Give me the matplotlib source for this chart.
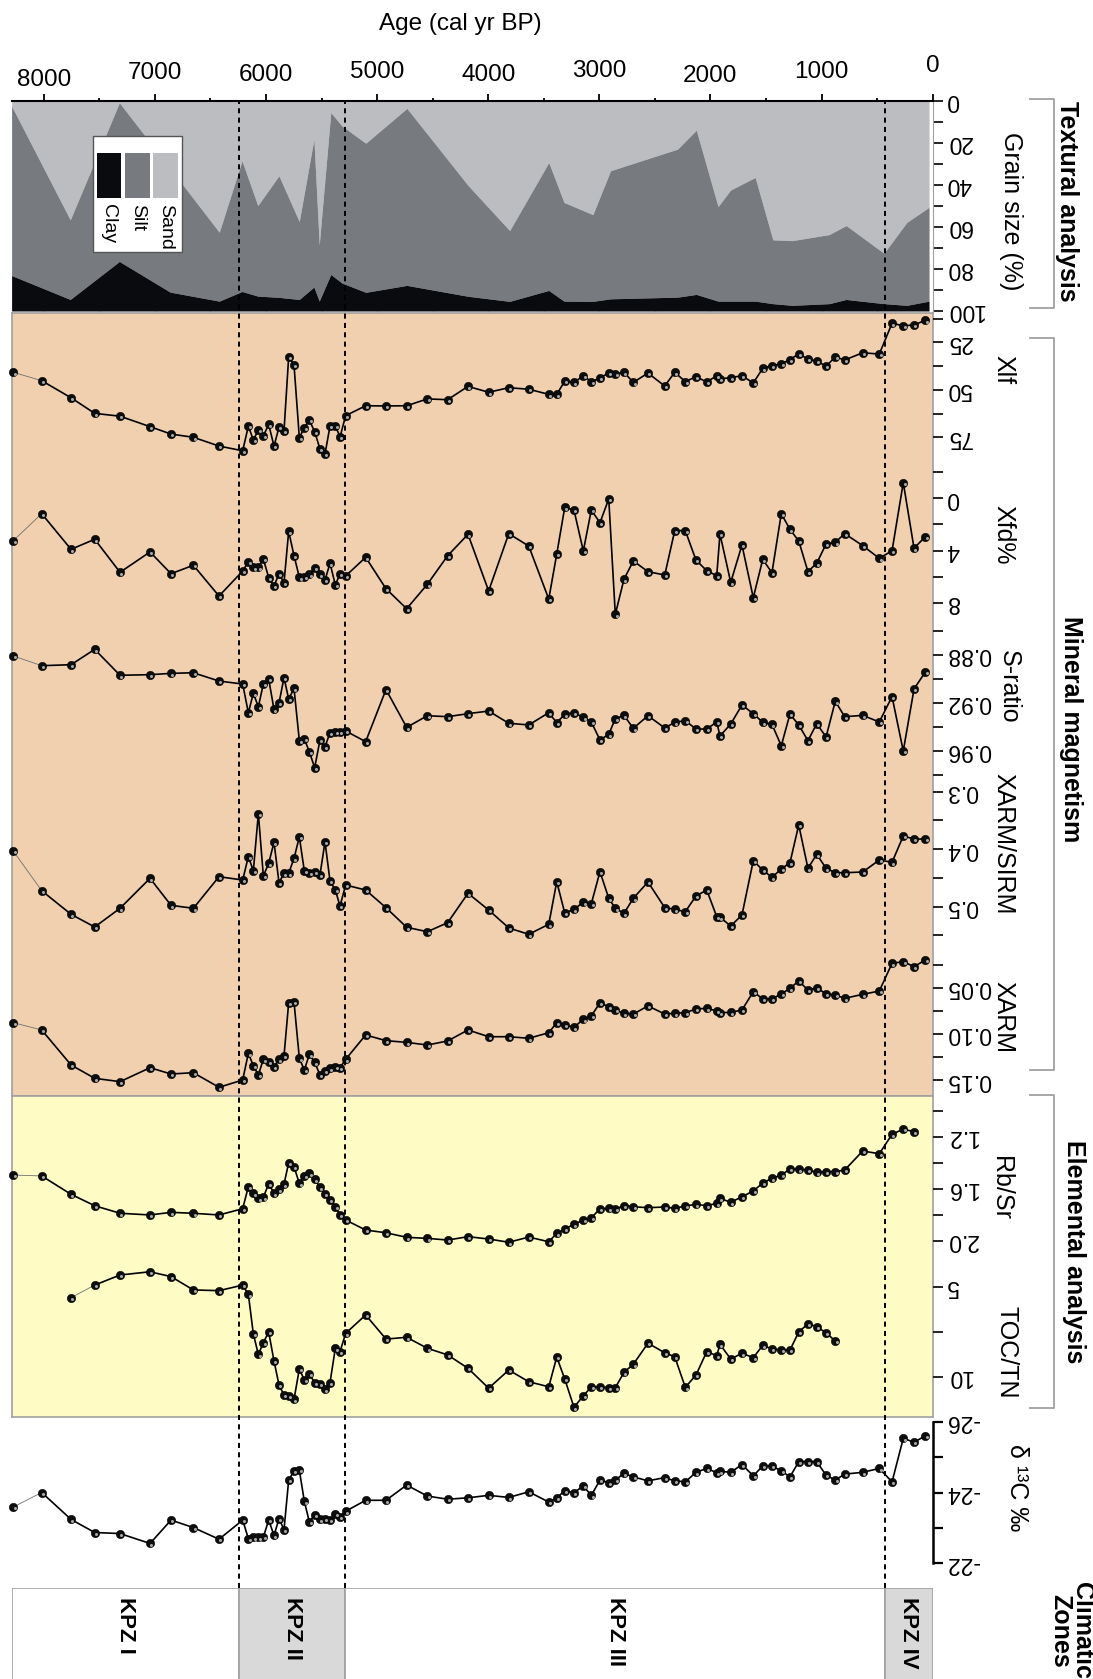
import numpy as np
import matplotlib
matplotlib.use("Agg")
import matplotlib.pyplot as plt
from matplotlib.patches import Rectangle
from matplotlib.lines import Line2D
from matplotlib.transforms import offset_copy, blended_transform_factory

plt.rcParams["font.family"] = ["Liberation Sans", "DejaVu Sans"]

# ---- data (ages in cal yr BP) ----
ages = [8275, 8019, 7755, 7542, 7314, 7044, 6855, 6654, 6423, 6210, 6159, 6114, 6069, 6024,
        5976, 5928, 5883, 5838, 5796, 5748, 5700, 5655, 5610, 5562, 5514, 5469, 5424, 5376,
        5334, 5283, 5103, 4920, 4734, 4548, 4365, 4182, 3996, 3815, 3635, 3455, 3383, 3311,
        3228, 3144, 3072, 2994, 2915, 2856, 2778, 2694, 2562, 2411, 2321, 2226, 2130, 2033,
        1943, 1914, 1817, 1716, 1614, 1529, 1446, 1362, 1284, 1205, 1122, 1043, 959, 876,
        791, 629, 480, 365, 264, 167, 66]

xlf = [40.8, 45.2, 54.2, 62.4, 63.9, 69.4, 73.3, 75.0, 79.6, 82.1, 69.1, 76.4, 71.2, 74.3,
       68.2, 79.6, 69.7, 71.5, 32.6, 36.9, 75.2, 69.9, 65.9, 72.1, 81.2, 83.8, 69.1, 68.9,
       74.8, 63.6, 58.4, 58.5, 58.4, 54.8, 55.2, 48.2, 51.3, 48.9, 49.7, 52.4, 52.4, 45.4,
       46.1, 42.7, 45.7, 43.9, 41.0, 41.7, 40.8, 46.1, 41.2, 48.0, 40.8, 45.7, 43.1, 45.9,
       42.6, 44.3, 43.6, 42.6, 46.4, 38.7, 37.3, 36.3, 34.2, 31.0, 33.9, 34.8, 37.6, 32.7,
       34.3, 30.5, 31.2, 15.0, 16.3, 15.9, 13.4]

xfd = [3.25, 1.18, 3.91, 3.14, 5.67, 4.11, 5.78, 5.13, 7.49, 5.57, 4.86, 5.29, 5.29, 4.65,
       6.08, 6.72, 5.78, 6.47, 2.53, 4.40, 6.05, 6.01, 5.83, 5.36, 5.83, 6.26, 4.98, 6.64,
       5.78, 5.95, 4.52, 6.93, 8.46, 6.59, 4.40, 2.76, 7.10, 2.71, 3.66, 7.72, 4.27, 0.69,
       0.90, 4.04, 0.90, 1.87, 0.05, 8.89, 6.21, 4.80, 5.62, 5.88, 2.48, 2.48, 4.73, 5.55,
       5.93, 2.74, 6.44, 3.58, 7.62, 4.68, 5.70, 1.18, 2.38, 3.27, 5.62, 4.98, 3.50, 3.37,
       2.71, 3.63, 4.60, 4.02, -1.2, 3.83, 2.94]

s_ratio = [0.8808, 0.8889, 0.8881, 0.8753, 0.8969, 0.8964, 0.8953, 0.8948, 0.9017, 0.9042,
           0.9281, 0.9119, 0.9231, 0.9042, 0.9000, 0.9253, 0.9200, 0.8989, 0.9167, 0.9078,
           0.9514, 0.9500, 0.9606, 0.9739, 0.9508, 0.9564, 0.9448, 0.9439, 0.9439, 0.9433,
           0.9522, 0.9088, 0.9403, 0.9306, 0.9314, 0.9289, 0.9267, 0.9369, 0.9383, 0.9281,
           0.9364, 0.9294, 0.9281, 0.9319, 0.9358, 0.9508, 0.9461, 0.9331, 0.9303, 0.9411,
           0.9306, 0.9408, 0.9361, 0.9347, 0.9417, 0.9417, 0.9358, 0.9475, 0.9375, 0.9217,
           0.9289, 0.9361, 0.9378, 0.9556, 0.9292, 0.9383, 0.9514, 0.9372, 0.9483, 0.9186,
           0.9314, 0.9303, 0.9358, 0.9147, 0.9600, 0.9083, 0.8942]

xarm_sirm = [0.4031, 0.4722, 0.5132, 0.5353, 0.5028, 0.4506, 0.4976, 0.5028, 0.4478, 0.4536,
             0.4130, 0.4374, 0.3383, 0.4466, 0.4245, 0.3880, 0.4583, 0.4419, 0.4419, 0.4158,
             0.3788, 0.4379, 0.4414, 0.4391, 0.4443, 0.3870, 0.4553, 0.4710, 0.4988, 0.4623,
             0.4710, 0.5017, 0.5358, 0.5435, 0.5278, 0.4767, 0.5057, 0.5370, 0.5480, 0.5306,
             0.4565, 0.5110, 0.5045, 0.4923, 0.4948, 0.4391, 0.4854, 0.5028, 0.5115, 0.4854,
             0.4570, 0.5017, 0.5045, 0.5087, 0.4814, 0.4710, 0.5174, 0.5184, 0.5336, 0.5144,
             0.4200, 0.4362, 0.4489, 0.4344, 0.4235, 0.3579, 0.4332, 0.4089, 0.4332, 0.4409,
             0.4409, 0.4397, 0.4188, 0.4228, 0.3770, 0.3823, 0.3823]

xarm = [0.0879, 0.0958, 0.1337, 0.1482, 0.1518, 0.1367, 0.1435, 0.1421, 0.1579, 0.1500,
        0.1211, 0.1345, 0.1446, 0.1276, 0.1302, 0.1356, 0.1276, 0.1237, 0.0663, 0.0655,
        0.1265, 0.1392, 0.1222, 0.1308, 0.1446, 0.1402, 0.1373, 0.1356, 0.1367, 0.1276,
        0.1012, 0.1074, 0.1092, 0.1121, 0.1077, 0.0958, 0.1031, 0.1031, 0.1048, 0.0988,
        0.0879, 0.0904, 0.0929, 0.0842, 0.0807, 0.0663, 0.0706, 0.0742, 0.0777, 0.0785,
        0.0698, 0.0785, 0.0777, 0.0771, 0.0731, 0.0723, 0.0752, 0.0771, 0.0767, 0.0742,
        0.0543, 0.0622, 0.0622, 0.0568, 0.0507, 0.0427, 0.0525, 0.0500, 0.0568, 0.0579,
        0.0615, 0.0572, 0.0536, 0.0236, 0.0218, 0.0272, 0.0200]

rb_sr = [1.495, 1.502, 1.643, 1.731, 1.789, 1.802, 1.782, 1.789, 1.802, 1.754, 1.585, 1.635,
         1.674, 1.666, 1.562, 1.635, 1.605, 1.566, 1.400, 1.431, 1.559, 1.500, 1.482, 1.528,
         1.589, 1.641, 1.687, 1.739, 1.802, 1.841, 1.918, 1.939, 1.974, 1.982, 1.995, 1.969,
         1.987, 2.012, 1.972, 2.008, 1.943, 1.910, 1.874, 1.841, 1.823, 1.756, 1.751, 1.756,
         1.731, 1.739, 1.746, 1.741, 1.751, 1.733, 1.720, 1.731, 1.712, 1.674, 1.705, 1.662,
         1.618, 1.556, 1.520, 1.495, 1.449, 1.451, 1.456, 1.474, 1.469, 1.469, 1.456, 1.310,
         1.331, 1.182, 1.141, 1.162, np.nan]

toc_tn = [np.nan, np.nan, 5.61, 4.91, 4.35, 4.17, 4.44, 5.18, 5.22, 4.91, 5.42, 7.63, 8.76,
          8.11, 7.52, 9.13, 10.46, 11.02, 11.07, 11.26, 9.57, 10.18, 9.85, 10.33, 10.41,
          10.70, 10.33, 8.42, 8.61, 7.59, 6.57, 7.91, 7.81, 8.42, 8.79, 9.53, 10.64, 9.63,
          10.28, 10.56, 8.91, 10.13, 11.70, 11.06, 10.57, 10.57, 10.61, 10.61, 9.76, 9.31,
          8.14, 8.67, 8.89, 10.59, 9.91, 8.61, 8.83, 8.20, 9.02, 8.70, 8.94, 8.26, 8.46,
          8.52, 8.52, 7.52, 7.06, 7.22, 7.56, 8.02, np.nan, np.nan, np.nan, np.nan, np.nan,
          np.nan, np.nan]

d13c = [-23.59, -24.00, -23.24, -22.87, -22.84, -22.56, -23.22, -23.01, -22.68, -23.22,
        -22.70, -22.73, -22.73, -22.74, -23.22, -22.79, -23.26, -22.95, -24.35, -24.61,
        -24.63, -23.75, -23.17, -23.36, -23.24, -23.26, -23.22, -23.39, -23.31, -23.47,
        -23.78, -23.78, -24.21, -23.90, -23.81, -23.85, -23.92, -23.86, -24.02, -23.73,
        -23.85, -24.05, -24.00, -24.18, -23.92, -24.35, -24.28, -24.35, -24.54, -24.44,
        -24.33, -24.42, -24.33, -24.30, -24.57, -24.68, -24.56, -24.60, -24.57, -24.79,
        -24.47, -24.75, -24.75, -24.61, -24.44, -24.87, -24.87, -24.87, -24.49, -24.35,
        -24.52, -24.57, -24.68, -24.30, -25.53, -25.42, -25.60]

# grain size (%)
grain_age = [8290, 7762, 7320, 6863, 6421, 6216, 6074, 5884, 5701, 5569, 5521, 5417, 5316,
             5102, 4732, 4180, 3807, 3455, 3318, 3058, 2899, 2295, 2127, 1931, 1819, 1597,
             1438, 1264, 931, 778, 438, 232, 32]
sand = [2.4, 56.6, 0.8, 32.1, 62.5, 28.5, 49.8, 35.6, 57.4, 18.2, 68.5, 5.5, 11.9, 20.1, 3.5,
        40.3, 61.7, 29.3, 48.3, 54.1, 33.2, 22.9, 13.9, 50.3, 42.4, 36.4, 66.1, 66.5, 63.6,
        59.3, 72.5, 57.8, 50.6]
clay = [16.9, 5.5, 23.6, 9.0, 4.7, 9.3, 7.1, 6.5, 5.5, 11.4, 4.7, 17.4, 13.3, 8.9, 12.2, 7.0,
        4.6, 9.8, 4.7, 4.6, 5.8, 6.6, 7.9, 4.7, 4.7, 4.7, 3.5, 2.7, 3.5, 5.5, 3.5, 2.7, 4.7]

zone_edges = [8290, 6245, 5285, 430, 0]
zone_names = ["KPZ I", "KPZ II", "KPZ III", "KPZ IV"]
age_ticks = [8000, 7000, 6000, 5000, 4000, 3000, 2000, 1000, 0]

# ---- layout (pixels of the 1093 x 1679 canvas) ----
W, H = 1093, 1679
LEFT, RIGHT = 11.6, 932.6
AGE_MAX = 8290
age_label_y = [80, 73, 75, 72, 75, 71, 76, 72, 66]

ORANGE = "#f0d0ae"
YELLOW = "#fefbc4"
SAND_C, SILT_C, CLAY_C = "#bcbdc0", "#777a7f", "#0a0b0f"
ZONE_GRAY = "#d9d9d9"
EDGE = "#a0a0a0"


def fx(px):
    return px / W


def fy(py):
    return 1 - py / H


fig = plt.figure(figsize=(W / 100, H / 100), dpi=100)


def panel(top, bot):
    ax = fig.add_axes([fx(LEFT), fy(bot), (RIGHT - LEFT) / W, (bot - top) / H])
    ax.set_xlim(AGE_MAX, 0)
    return ax


def right_ticks(ax, ticks, labels, size=16.5):
    ax.yaxis.tick_right()
    ax.set_yticks(ticks)
    ax.set_yticklabels(labels)
    ax.tick_params(axis="y", direction="out", length=7, width=1.2, pad=3,
                   labelsize=size, colors="black")
    for lab in ax.get_yticklabels():
        lab.set_rotation(180)
        lab.set_va("center")


# background panels
for top, bot, col in [(313, 1096, ORANGE), (1096, 1417, YELLOW)]:
    bg = panel(top, bot)
    bg.set_facecolor(col)
    for s in bg.spines.values():
        s.set_color(EDGE)
        s.set_linewidth(1.2)
    bg.set_yticks([])
    bg.xaxis.tick_top()
    bg.set_xticks(np.arange(0, 8001, 500))
    bg.set_xticklabels([])
    bg.tick_params(axis="x", direction="out", length=3, width=1, colors="#d8d8d8")
    if col == YELLOW:
        bg.tick_params(axis="x", top=False)

# grain size panel
axg = panel(101, 311)
axg.fill_between(grain_age, 0, sand, color=SAND_C, lw=0)
axg.fill_between(grain_age, sand, 100 - np.array(clay), color=SILT_C, lw=0)
axg.fill_between(grain_age, 100 - np.array(clay), 100, color=CLAY_C, lw=0)
axg.set_ylim(100, 0)
axg.set_facecolor("none")
for side in ["left", "bottom"]:
    axg.spines[side].set_visible(False)
axg.spines["top"].set_linewidth(1.5)
axg.spines["right"].set_color(EDGE)
axg.xaxis.tick_top()
axg.set_xticks(age_ticks)
axg.set_xticklabels([])
axg.set_xticks(np.arange(500, 8001, 1000), minor=True)
axg.tick_params(axis="x", which="major", direction="out", length=5, width=1.3)
axg.tick_params(axis="x", which="minor", direction="out", length=2.5, width=1.3)
right_ticks(axg, np.arange(0, 101, 10),
            [str(v) if v % 20 == 0 else "" for v in range(0, 101, 10)])

lab_tr = blended_transform_factory(axg.transData, fig.transFigure)
for a, yp in zip(age_ticks, age_label_y):
    axg.text(a, fy(yp), str(a), transform=lab_tr, ha="center", va="center", fontsize=17.5)
fig.text(fx(460), fy(24), "Age (cal yr BP)", ha="center", va="center", fontsize=17.5)

# legend of grain panel
fig.add_artist(Rectangle((fx(93), fy(252)), fx(89), 116 / H, transform=fig.transFigure,
                         facecolor="white", edgecolor="#555555", lw=1))
for x0, col, name in [(96.5, CLAY_C, "Clay"), (125, SILT_C, "Silt"), (153, SAND_C, "Sand")]:
    fig.add_artist(Rectangle((fx(x0), fy(198)), fx(24.5), 44.5 / H, transform=fig.transFigure,
                             facecolor=col, edgecolor="none"))
    fig.text(fx(x0 + 12.2), fy(204), name, rotation=-90, rotation_mode="anchor",
             ha="left", va="center", fontsize=14)


def track(top, bot, va, pa, vb, pb):
    k = (vb - va) / (pb - pa)
    ax = panel(top, bot)
    ax.set_ylim(va + (bot - pa) * k, va + (top - pa) * k)
    ax.set_facecolor("none")
    for s in ax.spines.values():
        s.set_visible(False)
    ax.tick_params(axis="x", bottom=False, labelbottom=False)
    return ax


def draw_series(ax, vals):
    a = np.asarray(ages, float)
    v = np.asarray(vals, float)
    ok = np.isfinite(v)
    a, v = a[ok], v[ok]
    hl = offset_copy(ax.transData, fig=fig, x=0.9, y=-0.9, units="points")
    ax.plot(a[:2], v[:2], color="#707070", lw=0.6, zorder=2, clip_on=False)
    ax.plot(a[1:], v[1:], color="black", lw=1.2, zorder=2, clip_on=False)
    ax.plot(a, v, ls="none", marker="o", ms=6.0, mfc="#0d0d0d", mec="black", mew=0.4,
            zorder=3, clip_on=False)
    ax.plot(a, v, ls="none", marker="o", ms=2.2, mfc="#a8a8a8", mec="none",
            transform=hl, zorder=4, clip_on=False)


tracks = [
    (xlf, (316, 460, 25, 342.3, 75, 437.3), [12.5, 25, 37.5, 50, 62.5, 75],
     ["", "25", "", "50", "", "75"]),
    (xfd, (468, 620, 0, 498.3, 8, 602.7), [-2, 0, 2, 4, 6, 8],
     ["", "0", "", "4", "", "8"]),
    (s_ratio, (625, 782, 0.88, 655, 0.96, 751), [0.86, 0.88, 0.90, 0.92, 0.94, 0.96, 0.98],
     ["", "0.88", "", "0.92", "", "0.96", ""]),
    (xarm_sirm, (786, 945, 0.3, 791.7, 0.5, 906.7), [0.3, 0.35, 0.4, 0.45, 0.5, 0.55],
     ["0.3", "", "0.4", "", "0.5", ""]),
    (xarm, (952, 1092, 0.05, 987.7, 0.15, 1080), [0.025, 0.05, 0.075, 0.10, 0.125, 0.15],
     ["", "0.05", "", "0.10", "", "0.15"]),
    (rb_sr, (1100, 1250, 1.2, 1136.7, 2.0, 1240.7), [1.0, 1.2, 1.4, 1.6, 1.8, 2.0],
     ["", "1.2", "", "1.6", "", "2.0"]),
    (toc_tn, (1255, 1414, 5, 1286.7, 10, 1376.7), [5, 7.5, 10], ["5", "", "10"]),
    (d13c, (1421.7, 1563.3, -26, 1421.7, -22, 1563.3), [-26, -25, -24, -23, -22],
     ["-26", "", "-24", "", "-22"]),
]

for vals, geo, ticks, labels in tracks:
    ax = track(*geo)
    right_ticks(ax, ticks, labels)
    draw_series(ax, vals)
    if vals is d13c:
        ax.spines["right"].set_visible(True)
        ax.spines["right"].set_linewidth(1.8)
        ax.spines["right"].set_bounds(-26, -22)
        ax.tick_params(axis="y", width=1.6)

# climatic zones
axz = panel(1588, 1720)
axz.set_ylim(0, 1)
axz.axis("off")
ztr = blended_transform_factory(axz.transData, fig.transFigure)
for i, name in enumerate(zone_names):
    a0, a1 = zone_edges[i], zone_edges[i + 1]
    axz.axvspan(a1, a0, facecolor=ZONE_GRAY if i % 2 else "white", edgecolor=EDGE, lw=1.2)
    axz.text((a0 + a1) / 2, fy(1597), name, transform=ztr, rotation=-90,
             rotation_mode="anchor", ha="left", va="center", fontsize=16, fontweight="bold")

# dashed zone boundaries
axo = panel(101, 1588)
axo.axis("off")
for b in zone_edges[1:-1]:
    axo.axvline(b, color="black", lw=1.4, ls=(0, (2.6, 2.2)))

# right-hand labels
side_labels = [
    ("Grain size (%)", 1011, 211),
    ("Xlf", 1003, 370),
    ("Xfd%", 1003, 535),
    ("S-ratio", 1009, 687),
    ("XARM/SIRM", 1003, 844),
    ("XARM", 1003, 1017),
    ("Rb/Sr", 1001, 1188),
    ("TOC/TN", 1006, 1352),
    ("δ ¹³C ‰", 1017, 1488),
]
for txt, x, y in side_labels:
    fig.text(fx(x), fy(y), txt, rotation=-90, ha="center", va="center", fontsize=18)

groups = [
    ("Textural analysis", 1067, 201, 98.5, 308),
    ("Mineral magnetism", 1071, 729, 338, 1070),
    ("Elemental analysis", 1074, 1252, 1095, 1408),
]
for txt, x, y, b0, b1 in groups:
    fig.text(fx(x), fy(y), txt, rotation=-90, ha="center", va="center",
             fontsize=18, fontweight="bold")
    fig.add_artist(Line2D([fx(1030), fx(1054), fx(1054), fx(1030)],
                          [fy(b0), fy(b0), fy(b1), fy(b1)], transform=fig.transFigure,
                          color="#a0a0a0", lw=1.3))

fig.text(fx(1071), fy(1582), "Climatic\nZones", rotation=-90, rotation_mode="anchor",
         ha="left", va="center", multialignment="center", fontsize=18, fontweight="bold",
         linespacing=0.9)

fig.savefig("out.png", dpi=100)
